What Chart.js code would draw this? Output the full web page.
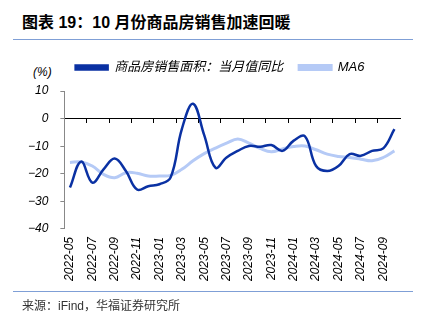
<!DOCTYPE html>
<html lang="zh">
<head>
<meta charset="UTF-8">
<title>图表 19：10 月份商品房销售加速回暖</title>
<script src="https://cdn.jsdelivr.net/npm/chart.js"></script>
<style>
  body { margin: 0; width: 429px; height: 321px; background: #fff; position: relative; overflow: hidden;
         font-family: "Liberation Sans", "Noto Sans CJK SC", sans-serif; color: #000; }
  .title { position: absolute; left: 22px; top: 13px; font-size: 16px; font-weight: bold; line-height: 20px; white-space: nowrap; }
  .rule { position: absolute; left: 13px; width: 400px; height: 0; border-top: 1.5px solid #7f9fd6; }
  .unit { position: absolute; left: 33px; top: 65px; font-size: 12px; font-style: italic; line-height: 14px; }
  .source { position: absolute; left: 22px; top: 298px; font-size: 12px; line-height: 16px; color: #333; white-space: nowrap; }
  .wrap { position: absolute; left: 0; top: 42px; width: 429px; height: 250px; }
</style>
</head>
<body>
  <div class="title">图表 19：10 月份商品房销售加速回暖</div>
  <div class="rule" style="top:39px"></div>
  <div class="unit">(%)</div>
  <div class="wrap"><canvas id="chart"></canvas></div>
  <div class="rule" style="top:291px"></div>
  <div class="source">来源：iFind，华福证券研究所</div>

<script>
const months = [
  "2022-05", "2022-06", "2022-07", "2022-08", "2022-09", "2022-10", "2022-11", "2022-12",
  "2023-01", "2023-02", "2023-03", "2023-04", "2023-05", "2023-06", "2023-07", "2023-08",
  "2023-09", "2023-10", "2023-11", "2023-12", "2024-01", "2024-02", "2024-03", "2024-04",
  "2024-05", "2024-06", "2024-07", "2024-08", "2024-09", "2024-10"
];
// 商品房销售面积：当月值同比 (%)
const salesYoY = [
  -25.0, -15.6, -23.2, -18.4, -14.5, -19.0, -25.7, -24.5,
  -23.8, -21.3, -3.8, 5.4, -6.0, -17.8, -14.1, -11.7,
  -9.9, -10.2, -9.6, -11.7, -8.0, -6.4, -17.2, -19.0,
  -17.2, -12.9, -13.5, -11.7, -10.8, -3.8
];
// MA6 (%)
const ma6 = [
  -15.9, -15.7, -17.2, -20.2, -21.4, -19.6, -19.8, -20.8,
  -20.8, -20.6, -18.4, -15.3, -12.7, -10.7, -8.9, -7.4,
  -8.9, -10.8, -12.0, -11.0, -10.1, -9.9, -11.3, -12.9,
  -13.7, -14.1, -14.7, -15.3, -14.1, -11.7
];
const yTicks = [-40, -30, -20, -10, 0, 10];

const fontFamily = '"Liberation Sans", "Noto Sans CJK SC", sans-serif';
const everyOther = (v, i) => i % 2 === 0 ? months[i] : null;

// more room under the legend, and nudge it right a little
const legendTweak = {
  id: 'legendTweak',
  beforeInit(chart) {
    const fit = chart.legend.fit;
    chart.legend.fit = function () {
      fit.bind(chart.legend)();
      this.height += 7;
    };
  },
  afterLayout(chart) {
    chart.legend.left += 12;
    chart.legend.right += 12;
  }
};

new Chart(document.getElementById('chart'), {
  type: 'line',
  data: {
    labels: months,
    datasets: [
      {
        label: '商品房销售面积：当月值同比',
        data: salesYoY,
        borderColor: '#0a31a3',
        backgroundColor: '#0a31a3',
        borderWidth: 2.5,
        pointRadius: 0,
        tension: 0.4
      },
      {
        label: 'MA6',
        data: ma6,
        borderColor: '#b5caf6',
        backgroundColor: '#b5caf6',
        borderWidth: 3,
        pointRadius: 0,
        tension: 0.4
      }
    ]
  },
  options: {
    responsive: true,
    maintainAspectRatio: false,
    animation: false,
    layout: { padding: { top: 3, left: 16, right: 29, bottom: 3 } },
    plugins: {
      tooltip: { enabled: false },
      legend: {
        position: 'top',
        labels: {
          boxWidth: 32,
          boxHeight: 4,
          padding: 16,
          color: '#000',
          font: { family: fontFamily, size: 13, style: 'italic' }
        }
      }
    },
    scales: {
      x: {
        type: 'category',
        offset: true,
        grid: { display: false, drawTicks: false },
        border: { display: false },
        ticks: {
          autoSkip: false,
          maxRotation: 90,
          minRotation: 90,
          padding: 8,
          color: '#000',
          font: { family: fontFamily, size: 12, style: 'italic' },
          callback: everyOther
        }
      },
      x2: {
        type: 'category',
        labels: months,
        position: { y: 0 },
        offset: true,
        grid: {
          offset: true,
          drawOnChartArea: false,
          drawTicks: true,
          tickLength: 4,
          color: ctx => ctx.index % 2 === 0 ? '#000' : 'rgba(0,0,0,0)'
        },
        border: { color: '#000', width: 1 },
        ticks: { display: false, autoSkip: false }
      },
      y: {
        min: yTicks[0],
        max: yTicks[yTicks.length - 1],
        grid: { drawOnChartArea: false, drawTicks: true, tickLength: 4, color: '#888' },
        border: { color: '#888', width: 1 },
        ticks: {
          stepSize: 10,
          padding: 12,
          color: '#000',
          font: { family: fontFamily, size: 12, style: 'italic' },
          callback: v => String(v).replace('-', '−')
        }
      }
    }
  },
  plugins: [legendTweak]
});
</script>
</body>
</html>
